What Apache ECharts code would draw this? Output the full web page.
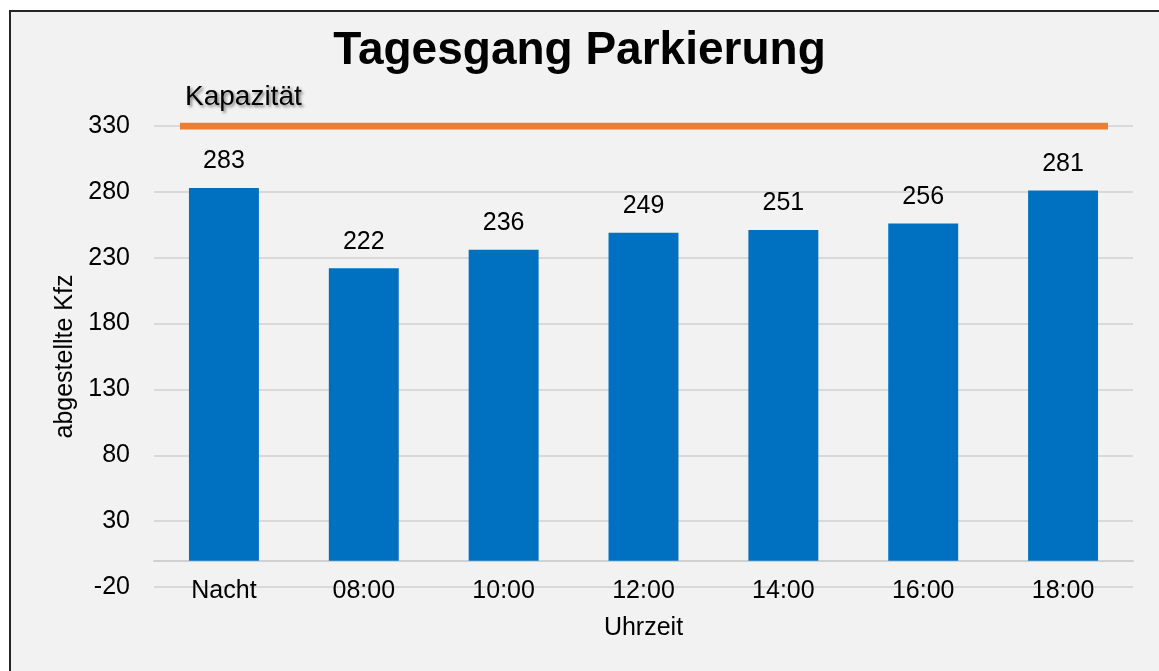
<!DOCTYPE html>
<html>
<head>
    <meta charset="utf-8">
    <title>Tagesgang Parkierung</title>
    <script src="https://cdn.jsdelivr.net/npm/echarts@6/dist/echarts.min.js"></script>
    <style>
        body { margin: 0; background: #ffffff; }
        #frame { position: absolute; left: 9px; top: 10px; width: 1160px; height: 670px;
                 background: #f2f2f2; border-left: 2px solid #262626; border-top: 2px solid #262626; }
        #main { position: absolute; left: 0; top: 0; width: 1159px; height: 671px; }
    </style>
</head>
<body>
    <div id="frame"></div>
    <div id="main"></div>
    <script type="text/javascript">
        // Daten
        var zeiten = ['Nacht', '08:00', '10:00', '12:00', '14:00', '16:00', '18:00'];
        var kfz = [283, 222, 236, 249, 251, 256, 281];
        var kapazitaet = [330, 330];
        var yMin = -20, yMax = 330, yStep = 50;

        var schrift = 'Liberation Sans, Arial, sans-serif';
        var myChart = echarts.init(document.getElementById('main'));

        var option = {
            backgroundColor: 'transparent',
            textStyle: { fontFamily: schrift },
            title: {
                text: 'Tagesgang Parkierung',
                left: 'center',
                top: 23,
                textStyle: { fontFamily: schrift, fontSize: 46, fontWeight: 'bold', color: '#000' }
            },
            grid: [
                { left: 154, right: 26, top: 126, bottom: 84 },
                // Kapazitätslinie etwas eingerückt
                { left: 180, right: 51, top: 126, bottom: 84 }
            ],
            xAxis: [
                {
                    type: 'category', gridIndex: 0, data: zeiten,
                    name: 'Uhrzeit', nameLocation: 'middle', nameGap: 29,
                    nameTextStyle: { fontSize: 25, color: '#000', fontFamily: schrift },
                    axisTick: { show: false },
                    axisLine: { lineStyle: { color: '#d0d0d0', width: 2 } },
                    axisLabel: { fontSize: 25, color: '#000', margin: -8, fontFamily: schrift }
                },
                {
                    type: 'category', gridIndex: 1, data: ['a', 'b'], boundaryGap: false, show: false
                }
            ],
            yAxis: [
                {
                    type: 'value', gridIndex: 0, min: yMin, max: yMax, interval: yStep,
                    name: 'abgestellte Kfz', nameLocation: 'middle', nameGap: 70,
                    nameTextStyle: { fontSize: 25, color: '#000', fontFamily: schrift },
                    axisLine: { show: false },
                    axisTick: { show: false },
                    axisLabel: { fontSize: 25, color: '#000', margin: 24, fontFamily: schrift },
                    splitLine: { lineStyle: { color: '#d9d9d9', width: 2 } }
                },
                {
                    type: 'value', gridIndex: 1, min: yMin, max: yMax, interval: yStep, show: false
                }
            ],
            series: [
                {
                    type: 'bar',
                    xAxisIndex: 0, yAxisIndex: 0,
                    data: kfz,
                    barWidth: '50%',
                    itemStyle: { color: '#0070c0' },
                    label: {
                        show: true, position: 'top', distance: 14,
                        fontSize: 25, color: '#000', fontFamily: schrift
                    }
                },
                {
                    type: 'line',
                    xAxisIndex: 1, yAxisIndex: 1,
                    data: kapazitaet,
                    symbol: 'circle', symbolSize: 1,
                    itemStyle: { color: 'rgba(237,125,49,0)' },
                    lineStyle: { color: '#ed7d31', width: 7 },
                    label: {
                        show: true, position: 'top', distance: 14, align: 'left', offset: [5, 0],
                        fontSize: 28, color: '#000', fontFamily: schrift,
                        textShadowColor: 'rgba(0,0,0,0.45)', textShadowBlur: 3,
                        textShadowOffsetX: 2, textShadowOffsetY: 2,
                        formatter: function (p) { return p.dataIndex === 0 ? 'Kapazität' : ''; }
                    },
                    z: 5
                }
            ]
        };

        myChart.setOption(option);
    </script>
</body>
</html>
